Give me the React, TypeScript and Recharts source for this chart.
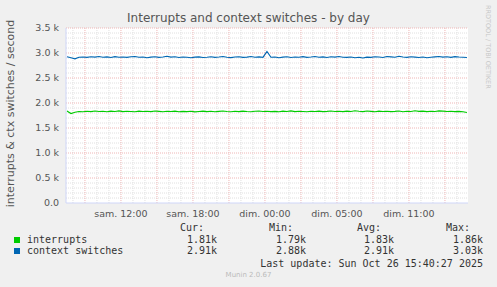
import React from 'react';
import { CartesianGrid, Line, LineChart, ReferenceLine, XAxis, YAxis } from 'recharts';

// samples every 20 minutes, hour 0 = sam. 12:00
const START_HOUR = -4.5;
const STEP_HOURS = 1 / 3;

const interrupts = [
  1840, 1790, 1815, 1830, 1825, 1835, 1828, 1840, 1830, 1835,
  1825, 1838, 1830, 1842, 1828, 1835, 1830, 1825, 1838, 1830,
  1835, 1828, 1840, 1832, 1825, 1835, 1830, 1838, 1825, 1832,
  1828, 1835, 1822, 1830, 1838, 1828, 1835, 1825, 1832, 1840,
  1830, 1825, 1835, 1828, 1838, 1830, 1825, 1835, 1840, 1830,
  1835, 1828, 1832, 1825, 1838, 1830, 1842, 1828, 1835, 1830,
  1825, 1835, 1830, 1838, 1828, 1832, 1840, 1830, 1835, 1828,
  1838, 1830, 1845, 1835, 1828, 1840, 1832, 1825, 1838, 1830,
  1835, 1828, 1832, 1840, 1825, 1835, 1830, 1845, 1832, 1838,
  1828, 1835, 1830, 1842, 1838, 1830, 1835, 1828, 1832, 1825,
  1810,
];

const contextSwitches = [
  2925, 2905, 2885, 2915, 2920, 2912, 2925, 2918, 2930, 2915,
  2922, 2910, 2928, 2915, 2920, 2912, 2925, 2930, 2915, 2920,
  2905, 2918, 2925, 2912, 2920, 2935, 2918, 2925, 2910, 2920,
  2915, 2905, 2918, 2922, 2910, 2915, 2925, 2912, 2920, 2930,
  2915, 2908, 2920, 2925, 2912, 2918, 2930, 2915, 2922, 2912,
  3030, 2915, 2920, 2905, 2918, 2925, 2910, 2920, 2915, 2928,
  2912, 2920, 2930, 2915, 2922, 2910, 2925, 2918, 2930, 2915,
  2912, 2920, 2905, 2915, 2900, 2918, 2912, 2925, 2920, 2910,
  2930, 2922, 2915, 2935, 2920, 2912, 2925, 2918, 2910, 2920,
  2905, 2915, 2922, 2930, 2918, 2925, 2912, 2928, 2920, 2915,
  2910,
];

const xTicks = [0, 6, 12, 18, 24];
const xTickLabels = ['sam. 12:00', 'sam. 18:00', 'dim. 00:00', 'dim. 05:00', 'dim. 11:00'];
const yTicks = [0, 500, 1000, 1500, 2000, 2500, 3000, 3500];

const seriesNames = ['interrupts', 'context switches'];
const seriesColors = ['#00cc00', '#0066b3'];
const curValues = ['1.81k', '2.91k'];
const minValues = ['1.79k', '2.88k'];
const avgValues = ['1.83k', '2.91k'];
const maxValues = ['1.86k', '3.03k'];

const data = interrupts.map((v, i) => ({
  t: START_HOUR + i * STEP_HOURS,
  interrupts: v,
  ctx: contextSwitches[i],
}));

// grid positions
const majorX = Array.from({ length: 11 }, (_, i) => -3 + i * 3);
const minorX = Array.from({ length: 33 }, (_, i) => -4 + i).filter((h) => h % 3 !== 0);
const minorY = Array.from({ length: 34 }, (_, i) => 100 + i * 100).filter((v) => v % 500 !== 0);
const majorY = yTicks.slice(1);

const sans = '"DejaVu Sans", sans-serif';
const mono = '"DejaVu Sans Mono", monospace';
const axisColor = '#cfd6f8';
const minorColor = '#e0e0e0';
const majorColor = '#efb6b6';

const fmtY = (v: number) => (v === 0 ? '0.0' : `${(v / 1000).toFixed(1)} k`);

function YLabel(props: any) {
  const vb = props.viewBox;
  const cx = 10;
  const cy = vb.y + vb.height / 2 - 2;
  return (
    <text x={cx} y={cy} transform={`rotate(-90 ${cx} ${cy})`} textAnchor="middle" dominantBaseline="central"
      style={{ fontFamily: sans, fontSize: 11, fill: '#555' }}>
      interrupts &amp; ctx switches / second
    </text>
  );
}

const cell = (right: number, top: number, text: string, color = '#333') => (
  <div style={{ position: 'absolute', right: 497 - right, top, fontFamily: mono, fontSize: 10, lineHeight: '12px', color, whiteSpace: 'pre' }}>
    {text}
  </div>
);

export default function App() {
  const rowTops = [234, 245];
  return (
    <div style={{ position: 'fixed', left: 0, top: 0, width: 497, height: 287, background: '#f0f0f0', overflow: 'hidden' }}>
      <div style={{ position: 'absolute', left: 0, width: 497, top: 11, textAlign: 'center', fontFamily: sans, fontSize: 12, lineHeight: '14px', color: '#555' }}>
        Interrupts and context switches - by day
      </div>
      <div style={{ position: 'absolute', left: 484, top: 5, writingMode: 'vertical-rl', fontFamily: sans, fontSize: 6.5, lineHeight: '7px', color: '#c8c8c8' }}>
        RRDTOOL / TOBI OETIKER
      </div>
      <LineChart width={497} height={287} data={data} margin={{ top: 28, right: 29, bottom: 64, left: 0 }}>
        <CartesianGrid fill="#ffffff" horizontal={false} vertical={false} />
        {minorX.map((h) => (
          <ReferenceLine key={`mx${h}`} x={h} stroke={minorColor} strokeDasharray="1 1" />
        ))}
        {minorY.map((v) => (
          <ReferenceLine key={`my${v}`} y={v} stroke={minorColor} strokeDasharray="1 1" />
        ))}
        {majorX.map((h) => (
          <ReferenceLine key={`Mx${h}`} x={h} stroke={majorColor} strokeDasharray="1 1" />
        ))}
        {majorY.map((v) => (
          <ReferenceLine key={`My${v}`} y={v} stroke={majorColor} strokeDasharray="1 1" />
        ))}
        <XAxis dataKey="t" type="number" domain={[-4.58, 28.92]} allowDataOverflow ticks={xTicks}
          tickFormatter={(v: number) => xTickLabels[xTicks.indexOf(v)]} height={20} tickSize={5} tickLine={false}
          stroke={axisColor} tick={{ fontFamily: sans, fontSize: 9.5, fill: '#555' }} interval={0} />
        <YAxis type="number" domain={[0, 3500]} ticks={yTicks} tickFormatter={fmtY} width={66} tickSize={5}
          tickLine={false} stroke={axisColor} tick={{ fontFamily: sans, fontSize: 9.5, fill: '#555' }} interval={0}
          label={<YLabel />} />
        <Line dataKey="interrupts" stroke={seriesColors[0]} strokeWidth={1.2} dot={false} isAnimationActive={false} />
        <Line dataKey="ctx" stroke={seriesColors[1]} strokeWidth={1.2} dot={false} isAnimationActive={false} />
      </LineChart>
      {cell(204, 222, 'Cur:')}
      {cell(293, 222, 'Min:')}
      {cell(381, 222, 'Avg:')}
      {cell(470, 222, 'Max:')}
      {seriesNames.map((name, i) => (
        <React.Fragment key={name}>
          <div style={{ position: 'absolute', left: 14, top: rowTops[i] + 3, width: 6, height: 6, background: seriesColors[i] }} />
          <div style={{ position: 'absolute', left: 27, top: rowTops[i], fontFamily: mono, fontSize: 10, lineHeight: '12px', color: '#333', whiteSpace: 'pre' }}>
            {name}
          </div>
          {cell(217, rowTops[i], curValues[i])}
          {cell(306, rowTops[i], minValues[i])}
          {cell(394, rowTops[i], avgValues[i])}
          {cell(483, rowTops[i], maxValues[i])}
        </React.Fragment>
      ))}
      {cell(483, 258, 'Last update: Sun Oct 26 15:40:27 2025')}
      <div style={{ position: 'absolute', left: 0, width: 497, top: 271, textAlign: 'center', fontFamily: sans, fontSize: 7, lineHeight: '9px', color: '#bbb' }}>
        Munin 2.0.67
      </div>
    </div>
  );
}
